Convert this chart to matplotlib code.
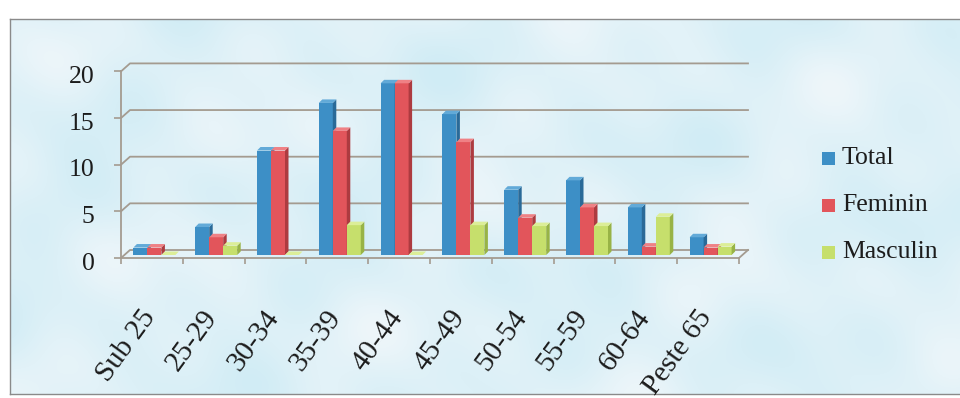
import numpy as np
import matplotlib
matplotlib.use("Agg")
import matplotlib.pyplot as plt
from matplotlib.patches import Polygon, Rectangle
from matplotlib.transforms import ScaledTranslation

plt.rcParams['font.family'] = ['Liberation Serif', 'DejaVu Serif']

# ---- data -------------------------------------------------------------
categories = ['Sub 25', '25-29', '30-34', '35-39', '40-44',
              '45-49', '50-54', '55-59', '60-64', 'Peste 65']
total = [0.8, 3.0, 11.2, 16.3, 18.4, 15.1, 7.0, 8.0, 5.1, 1.9]
feminin = [0.8, 1.9, 11.2, 13.3, 18.4, 12.1, 4.0, 5.1, 0.9, 0.8]
masculin = [0.0, 1.0, 0.0, 3.2, 0.0, 3.2, 3.1, 3.1, 4.1, 0.9]
series_names = ['Total', 'Feminin', 'Masculin']
y_ticks = [0, 5, 10, 15, 20]

# ---- styling ----------------------------------------------------------
face = {'Total': '#3d8fc6', 'Feminin': '#e2555b', 'Masculin': '#c6df6c'}
side = {'Total': '#2a6a98', 'Feminin': '#ad3b40', 'Masculin': '#98b346'}
top = {'Total': '#62aad8', 'Feminin': '#ef8185', 'Masculin': '#dcee98'}
grid_col = '#a49b90'
text_col = '#1c1c1c'

W, H = 960, 398
fig = plt.figure(figsize=(W / 100, H / 100), dpi=100)
fig.patch.set_facecolor('white')


def fx(px):
    return px / W


def fy(py):
    return 1 - py / H


# ---- mottled paper panel ------------------------------------------------
left_px, top_px, bot_px = 10, 19.5, 394
bg = fig.add_axes([fx(left_px), fy(bot_px), 1.02 - fx(left_px), (bot_px - top_px) / H], zorder=0)
yy, xx = np.mgrid[0:190, 0:480].astype(float)
z = (np.sin(xx * 0.045 + yy * 0.031 + 0.7) +
     0.8 * np.sin(xx * 0.021 - yy * 0.067 + 2.1) +
     0.6 * np.sin(xx * 0.083 + yy * 0.052 + 4.0) +
     0.5 * np.sin(xx * 0.117 - yy * 0.094 + 1.3) +
     0.4 * np.sin(xx * 0.013 + yy * 0.121 + 5.2))
z = (z - z.min()) / (z.max() - z.min())
base = np.array([208, 236, 245]) / 255.0
light = np.array([238, 246, 250]) / 255.0
img = base[None, None, :] + (light - base)[None, None, :] * z[..., None] ** 1.1
bg.imshow(img, aspect='auto', extent=[0, 1, 0, 1], interpolation='bilinear')
bg.set_xlim(0, 1)
bg.set_ylim(0, 1)
bg.set_xticks([])
bg.set_yticks([])
for s in bg.spines.values():
    s.set_color('#8a8a8a')
    s.set_linewidth(1.0)

# ---- main plotting axes (front plane) ---------------------------------
ax = fig.add_axes([fx(121), fy(258), 618 / W, 186.6 / H], zorder=2)
ax.set_facecolor('none')
ax.set_xlim(-0.5, 9.5)
ax.set_ylim(0, 20)

px_x = 1 / 61.8          # data units per pixel, horizontal
px_y = 20 / 186.6        # data units per pixel, vertical

for name in ['top', 'right']:
    ax.spines[name].set_visible(False)
for name in ['left', 'bottom']:
    ax.spines[name].set_color(grid_col)
    ax.spines[name].set_linewidth(1.3)

# back wall gridlines with their diagonal links to the front axis
WX, WY = 9 * px_x, 8 * px_y
for v in y_ticks:
    ax.plot([-0.5, -0.5 + WX, 9.5 + WX], [v, v + WY, v + WY],
            color=grid_col, lw=1.3, clip_on=False, zorder=1)
ax.plot([9.5, 9.5 + WX], [0, WY], color=grid_col, lw=1.3, clip_on=False, zorder=1)

# y axis ticks and labels
ax.set_yticks(y_ticks)
ax.set_yticklabels([str(v) for v in y_ticks], fontsize=18.5, color=text_col)
ax.tick_params(axis='y', length=5, width=1.2, color=grid_col, pad=14, direction='out')
for lbl in ax.get_yticklabels():
    lbl.set_transform(lbl.get_transform() + ScaledTranslation(0, -0.03, fig.dpi_scale_trans))

# x axis: boundary ticks plus rotated category labels
centers = np.arange(len(categories))
ax.set_xticks(np.arange(-0.5, len(categories), 1.0))
ax.set_xticklabels([])
ax.tick_params(axis='x', which='major', length=4.5, width=1.2, color=grid_col, direction='out')
ax.set_xticks(centers, labels=categories, minor=True)
ax.tick_params(axis='x', which='minor', length=0, pad=34, labelsize=21, labelcolor=text_col)
for lbl in ax.get_xticklabels(minor=True):
    lbl.set_rotation(54)
    lbl.set_ha('right')
    lbl.set_rotation_mode('anchor')
    lbl.set_transform(lbl.get_transform() + ScaledTranslation(-0.12, 0, fig.dpi_scale_trans))

# ---- 3D-looking columns --------------------------------------------------
BX, BY = 4 * px_x, 3 * px_y          # column plane, a little behind the front
bw = 14 * px_x
ddx, ddy = 3.5 * px_x, 3.5 * px_y

for k, (name, vals) in enumerate(zip(series_names, [total, feminin, masculin])):
    xs = centers + (k - 1) * bw + BX - 1.5 * px_x
    zo = 3 + k
    ax.bar(xs, vals, width=bw, bottom=BY, color=face[name], linewidth=0, zorder=zo)
    for xc, v in zip(xs, vals):
        x0, x1 = xc - bw / 2, xc + bw / 2
        yb, yt = BY, BY + v
        ax.add_patch(Polygon([(x1, yb), (x1, yt), (x1 + ddx, yt + ddy), (x1 + ddx, yb + ddy)],
                             closed=True, facecolor=side[name], edgecolor='none', zorder=zo))
        ax.add_patch(Polygon([(x0, yt), (x1, yt), (x1 + ddx, yt + ddy), (x0 + ddx, yt + ddy)],
                             closed=True, facecolor=top[name], edgecolor='none', zorder=zo))

# ---- legend ------------------------------------------------------------
for i, name in enumerate(series_names):
    cy = 158 + i * 47
    fig.patches.append(Rectangle((fx(822), fy(cy + 6.5)), 13 / W, 13 / H,
                                 transform=fig.transFigure, facecolor=face[name],
                                 edgecolor='none', zorder=5))
    fig.text(fx(842), fy(cy), name, fontsize=18.5, color=text_col,
             va='center', ha='left', zorder=5)

fig.savefig('out.png', dpi=100)
